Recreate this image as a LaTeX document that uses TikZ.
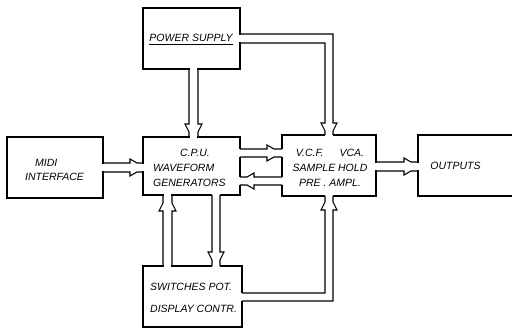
\documentclass[tikz,border=0pt]{standalone}
\usepackage{fontspec}
\setmainfont{Liberation Sans}
\tikzset{
  box/.style={draw=black, line width=1.1pt, inner sep=0pt},
  txt/.style={inner sep=0pt, font=\fontsize{10.5}{15}\selectfont\itshape},
  pipeline/.style={draw=black, line width=1.1pt, line join=miter, line cap=rect},
  blank/.style={draw=white, line width=7.4pt, shorten <=-1.2pt, shorten >=-1.2pt},
}
% horizontal pipe: #1 from anchor, #2 to anchor, #3 upper y, #4 lower y, #5 base x, #6 tip x, #7 mid y
\newcommand\hpipe[7]{%
  \path[blank] (#1 |- 0,#7) -- (#2 |- 0,#7);
  \draw[pipeline] (#1 |- 0,#3) -- (#5,#3) -- (#5,#3-4) -- (#6,#3) -- (#2 |- 0,#3);
  \draw[pipeline] (#1 |- 0,#4) -- (#5,#4) -- (#5,#4+4) -- (#6,#4) -- (#2 |- 0,#4);
}
% vertical pipe: #1 from anchor, #2 to anchor, #3 left x, #4 right x, #5 base y, #6 tip y, #7 mid x
\newcommand\vpipe[7]{%
  \path[blank] (#7,0 |- #1) -- (#7,0 |- #2);
  \draw[pipeline] (#3,0 |- #1) -- (#3,#5) -- (#3-4,#5) -- (#3,#6) -- (#3,0 |- #2);
  \draw[pipeline] (#4,0 |- #1) -- (#4,#5) -- (#4+4,#5) -- (#4,#6) -- (#4,0 |- #2);
}
\begin{document}
\begin{tikzpicture}[x=1pt,y=-1pt]
\useasboundingbox (0,0) rectangle (512,329);
\clip (0,0) rectangle (512,329);
\fill[white] (0,0) rectangle (512,329);

% boxes
\node[box, minimum width=97pt, minimum height=61pt] (ps)   at (191.5,38.5) {};
\node[box, minimum width=96pt, minimum height=61pt] (midi) at (55,167.5) {};
\node[box, minimum width=97pt, minimum height=58pt] (cpu)  at (191.5,166) {};
\node[box, minimum width=94pt, minimum height=61pt] (vcf)  at (329,165.5) {};
\node[box, minimum width=112pt, minimum height=61pt] (out) at (474,165.5) {};
\node[box, minimum width=99pt, minimum height=61pt] (sw)   at (192.5,296.5) {};

% texts
\node[txt] (pst) at (191,38) {POWER SUPPLY};
\draw[line width=0.9pt] ([yshift=-3pt]pst.south west) -- ([yshift=-3pt]pst.south east);
\node[txt, align=left, anchor=west, font=\fontsize{10.5}{14}\selectfont\itshape] (midit) at (25,170) {\hspace*{10pt}MIDI\\INTERFACE};
\node[txt, align=left, anchor=west] (cput) at (153,168) {\hspace*{27pt}C.P.U.\\WAVEFORM\\GENERATORS};
\node[txt, align=center] (vcft) at (330,168) {V.C.F.\hspace{16pt}VCA.\\SAMPLE HOLD\\PRE . AMPL.};
\node[txt] (outt) at (455.5,166) {OUTPUTS};
\node[txt, align=left, anchor=west, font=\fontsize{10.5}{22}\selectfont\itshape] (swt) at (150,298) {SWITCHES POT.\\DISPLAY CONTR.};

% pipes
\hpipe{midi.east}{cpu.west}{163}{172}{130}{137}{167.5}
\vpipe{ps.south}{cpu.north}{189}{198}{124}{132}{193.5}
\hpipe{cpu.east}{vcf.west}{149}{157}{267}{274}{153}
\hpipe{vcf.west}{cpu.east}{177}{185}{254}{247}{181}
\hpipe{vcf.east}{out.west}{162}{171}{404}{411}{166.5}
\vpipe{cpu.south}{sw.north}{212}{220}{252}{260}{216}
\vpipe{sw.north}{cpu.south}{163}{172}{211}{203}{167.5}

% power supply -> VCF
\path[blank] (ps.east |- 0,38.5) -- (329,38.5) -- (329,0 |- vcf.north);
\draw[pipeline] (ps.east |- 0,34) -- (333,34) -- (333,123) -- (337,123) -- (333,131) -- (333,0 |- vcf.north);
\draw[pipeline] (ps.east |- 0,43) -- (325,43) -- (325,123) -- (321,123) -- (325,131) -- (325,0 |- vcf.north);

% switches -> VCF
\path[blank] (sw.east |- 0,297) -- (329,297) -- (329,0 |- vcf.south);
\draw[pipeline] (sw.east |- 0,293) -- (325,293) -- (325,210) -- (321,210) -- (325,202) -- (325,0 |- vcf.south);
\draw[pipeline] (sw.east |- 0,301) -- (333,301) -- (333,210) -- (337,210) -- (333,202) -- (333,0 |- vcf.south);
\end{tikzpicture}
\end{document}
